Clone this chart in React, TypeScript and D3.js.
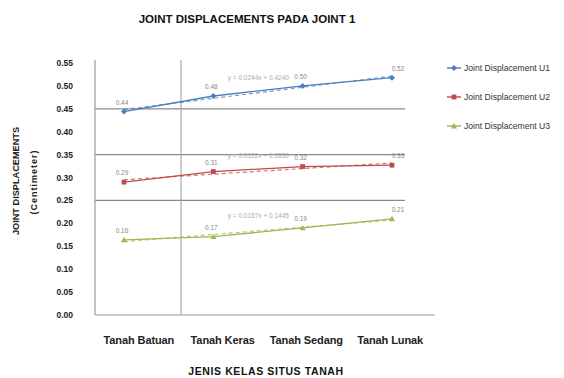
import React from "react";
import * as d3 from "d3";

// Soil site classes along the x axis
const categories = ["Tanah Batuan", "Tanah Keras", "Tanah Sedang", "Tanah Lunak"];

// Joint displacement at joint 1 for each direction
const u1Values = [0.444, 0.478, 0.5, 0.518];
const u2Values = [0.29, 0.313, 0.324, 0.327];
const u3Values = [0.164, 0.171, 0.19, 0.21];

const seriesNames = ["Joint Displacement U1", "Joint Displacement U2", "Joint Displacement U3"];
const seriesColors = ["#4A7EBB", "#BE4B48", "#98B954"];
const seriesMarkers = ["diamond", "square", "triangle"];

const yTicks = d3.range(0, 0.5501, 0.05);
const gridValues = [0.25, 0.35, 0.45];

const W = 564;
const H = 378;
const plotLeft = 95;
const plotRight = 435;
const plotTop = 63;
const plotBottom = 315;

const FONT = "'Liberation Sans', Arial, sans-serif";

function Marker({ kind, x, y, color }: { kind: string; x: number; y: number; color: string }) {
  if (kind === "diamond") {
    const s = 3;
    return <path d={`M${x},${y - s}L${x + s},${y}L${x},${y + s}L${x - s},${y}Z`} fill={color} />;
  }
  if (kind === "square") {
    const s = 2.4;
    return <rect x={x - s} y={y - s} width={s * 2} height={s * 2} fill={color} />;
  }
  const s = 3;
  return <path d={`M${x},${y - s}L${x + s},${y + s * 0.8}L${x - s},${y + s * 0.8}Z`} fill={color} />;
}

function linearFit(vals: number[]) {
  const xs = vals.map((_, i) => i + 1);
  const mx = d3.mean(xs) as number;
  const my = d3.mean(vals) as number;
  const sxy = d3.sum(xs.map((x, i) => (x - mx) * (vals[i] - my)));
  const sxx = d3.sum(xs.map((x) => (x - mx) ** 2));
  const slope = sxy / sxx;
  return { slope, intercept: my - slope * mx };
}

export default function App() {
  const y = d3.scaleLinear().domain([0, 0.55]).range([plotBottom, plotTop]);
  const xPoint = d3.scalePoint<string>().domain(categories).range([124, 392]);
  const xBand = d3.scaleBand<string>().domain(categories).range([97, 432]);
  const xDivider = 181;

  const allSeries = [u1Values, u2Values, u3Values];
  const line = d3
    .line<number>()
    .x((_, i) => xPoint(categories[i]) as number)
    .y((d) => y(d));

  return (
    <svg
      width={W}
      height={H}
      style={{ position: "absolute", left: 0, top: 0, background: "#fff" }}
      fontFamily={FONT}
    >
      {/* title */}
      <text x={247} y={23} textAnchor="middle" fontSize={11.5} fontWeight="bold" fill="#111" letterSpacing={0}>
        JOINT DISPLACEMENTS PADA JOINT 1
      </text>

      {/* gridlines */}
      {gridValues.map((g) => (
        <line key={g} x1={plotLeft} x2={405} y1={y(g)} y2={y(g)} stroke="#8a8a8a" strokeWidth={1.2} />
      ))}
      {/* frame */}
      <line x1={plotLeft} x2={plotLeft} y1={plotTop - 3} y2={plotBottom} stroke="#9a9a9a" strokeWidth={1.2} />
      <line x1={xDivider} x2={xDivider} y1={plotTop - 3} y2={plotBottom} stroke="#9a9a9a" strokeWidth={1} />
      <line x1={plotLeft} x2={plotRight} y1={plotBottom} y2={plotBottom} stroke="#9a9a9a" strokeWidth={1.2} />

      {/* y ticks */}
      {yTicks.map((t) => (
        <text key={t} x={73} y={y(t)} dy="0.35em" textAnchor="end" fontSize={8.5} fontWeight="bold" fill="#222">
          {t.toFixed(2)}
        </text>
      ))}

      {/* y title */}
      <text transform="translate(19,181) rotate(-90)" textAnchor="middle" fontSize={9.2} fontWeight="bold" fill="#222">
        JOINT DISPLACEMENTS
      </text>
      <text transform="translate(37,182) rotate(-90)" textAnchor="middle" fontSize={9} fontWeight="bold" fill="#222" letterSpacing={1}>
        (Centimeter)
      </text>

      {/* category labels */}
      {categories.map((c) => (
        <text
          key={c}
          x={(xBand(c) as number) + xBand.bandwidth() / 2}
          y={344}
          textAnchor="middle"
          fontSize={11}
          fontWeight="bold"
          fill="#222"
          letterSpacing={-0.1}
        >
          {c}
        </text>
      ))}

      {/* x title */}
      <text x={266} y={375} textAnchor="middle" fontSize={10.5} fontWeight="bold" fill="#111" letterSpacing={0.6}>
        JENIS KELAS SITUS TANAH
      </text>

      {/* series */}
      {allSeries.map((vals, si) => {
        const fit = linearFit(vals);
        const trend = categories.map((_, i) => fit.intercept + fit.slope * (i + 1));
        const color = seriesColors[si];
        const midX = (xPoint(categories[1]) as number) + 45;
        const midY = y(trend[1] + (trend[2] - trend[1]) / 2) - 13;
        return (
          <g key={si}>
            <path d={line(vals) ?? ""} fill="none" stroke={color} strokeWidth={1.3} />
            <path d={line(trend) ?? ""} fill="none" stroke={color} strokeWidth={1.2} strokeDasharray="4,3" opacity={0.75} />
            {vals.map((v, i) => (
              <Marker key={i} kind={seriesMarkers[si]} x={xPoint(categories[i]) as number} y={y(v)} color={color} />
            ))}
            {vals.map((v, i) => (
              <text
                key={"l" + i}
                x={(xPoint(categories[i]) as number) + (i === 3 ? 6 : -2)}
                y={y(v) - 7}
                textAnchor="middle"
                fontSize={6.5}
                fill="#888"
              >
                {v.toFixed(2)}
              </text>
            ))}
            <text x={midX} y={midY} textAnchor="middle" fontSize={6.5} fill="#aaa">
              {`y = ${fit.slope.toFixed(4)}x + ${fit.intercept.toFixed(4)}`}
            </text>
          </g>
        );
      })}

      {/* legend */}
      {seriesNames.map((name, i) => {
        const ly = 68 + i * 29;
        return (
          <g key={name}>
            <line x1={447} x2={461} y1={ly} y2={ly} stroke={seriesColors[i]} strokeWidth={1.4} />
            <Marker kind={seriesMarkers[i]} x={454} y={ly} color={seriesColors[i]} />
            <text x={464} y={ly} dy="0.35em" fontSize={8.6} fill="#333">
              {name}
            </text>
          </g>
        );
      })}
    </svg>
  );
}
